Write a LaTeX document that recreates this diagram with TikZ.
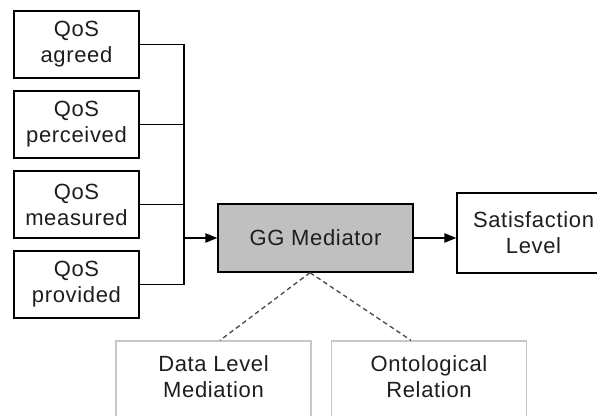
\documentclass[tikz,border=0pt]{standalone}
\usepackage{fontspec}
\setmainfont[LetterSpace=3]{Liberation Sans}
\usetikzlibrary{arrows.meta,calc}
\definecolor{txt}{HTML}{1E1E1E}
\definecolor{ggfill}{HTML}{C0C0C0}
\definecolor{lightbd}{HTML}{C8C8C8}
\definecolor{dashc}{HTML}{4A4A4A}
\begin{document}
\begin{tikzpicture}[x=0.75pt,y=-0.75pt,
  every node/.style={font=\fontsize{16.5pt}{19.5pt}\selectfont, text=txt, align=center, inner sep=0pt},
  qbox/.style={draw=black, line width=1pt, fill=white, minimum width={125*0.75pt}, minimum height={67*0.75pt}},
  ggbox/.style={draw=black, line width=1pt, fill=ggfill, minimum width={195*0.75pt}, minimum height={68*0.75pt}},
  satbox/.style={draw=black, line width=1pt, fill=white, minimum width={153*0.75pt}, minimum height={80*0.75pt}},
  lowbox/.style={draw=lightbd, line width=1pt, fill=white, minimum width={195*0.75pt}, minimum height={90*0.75pt}, text depth={19*0.75pt}},
  conn/.style={draw=black, line width=1pt},
  arr/.style={conn, -{Triangle[length=9pt,width=7pt]}},
  dconn/.style={draw=dashc, line width=1pt, dash pattern=on 3.5pt off 2.5pt}]
\clip (0,0) rectangle (597,416);
\fill[white] (0,0) rectangle (597,416);
\node[qbox] (q1) at (76.5,44.5) {QoS\\agreed};
\node[qbox] (q2) at (76.5,124.5) {QoS\\perceived};
\node[qbox] (q3) at (76.5,204.5) {QoS\\measured};
\node[qbox] (q4) at (76.5,284.5) {QoS\\provided};
\node[ggbox] (gg) at (315.5,238) {GG Mediator};
\node[satbox] (sat) at (533.5,233) {Satisfaction\\Level};
\node[lowbox] (dl) at (213.5,386) {Data Level\\Mediation};
\node[lowbox] (on) at (429,386) {Ontological\\Relation};
\coordinate (bus) at (184,0);
\draw[conn] (q1.east) -- (q1.east -| bus) |- (q4.east);
\draw[conn] (q2.east) -- (q2.east -| bus);
\draw[conn] (q3.east) -- (q3.east -| bus);
\draw[arr] (gg.west -| bus) -- (gg.west);
\draw[arr] (gg.east) -- (gg.east -| sat.west);
\coordinate (gs) at ($(gg.south)+(-5.5,0)$);
\draw[dconn] (gs) -- ($(dl.north)+(6.5,0)$);
\draw[dconn] (gs) -- ($(on.north)+(-18,0)$);
\end{tikzpicture}
\end{document}
